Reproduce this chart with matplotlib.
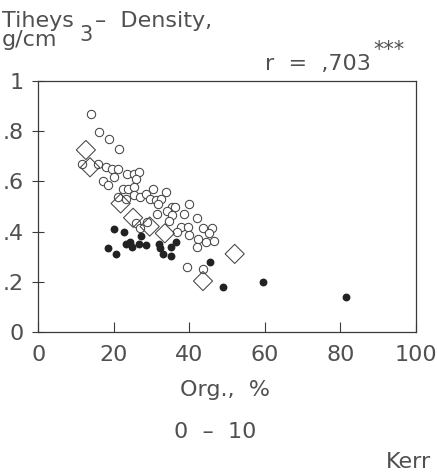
import matplotlib.pyplot as plt
from matplotlib.ticker import FixedLocator

# open circles
open_x = [13.9, 16.1, 18.7, 21.5, 11.7, 15.7, 17.8, 19.4, 21.2, 23.5, 20.0, 25.3, 26.6, 26.0,
          17.2, 18.5, 22.3, 23.7, 25.3, 30.4, 33.8, 21.0, 23.3, 25.3, 26.9, 28.5, 29.6, 31.1,
          32.6, 31.7, 35.3, 36.2, 39.9, 34.1, 31.5, 35.4, 38.5, 41.9, 25.8, 28.9, 34.6, 26.9,
          37.7, 39.7, 43.6, 46.1, 36.6, 39.9, 45.2, 42.3, 44.5, 46.5, 41.9, 39.3, 43.6]
open_y = [0.867, 0.797, 0.768, 0.728, 0.668, 0.668, 0.657, 0.648, 0.648, 0.628, 0.616, 0.628,
          0.639, 0.608, 0.603, 0.587, 0.569, 0.570, 0.578, 0.569, 0.557, 0.539, 0.530, 0.546,
          0.537, 0.549, 0.530, 0.526, 0.529, 0.509, 0.499, 0.499, 0.509, 0.483, 0.470, 0.466,
          0.470, 0.453, 0.433, 0.439, 0.442, 0.413, 0.419, 0.419, 0.413, 0.413, 0.400, 0.386,
          0.393, 0.369, 0.360, 0.363, 0.340, 0.260, 0.250]

# filled circles
fill_x = [20.0, 22.7, 27.1, 18.5, 20.6, 23.1, 24.3, 24.7, 26.7, 28.5, 32.0, 32.2, 33.1,
          35.1, 35.1, 36.4, 45.5, 48.9, 59.5, 81.4]
fill_y = [0.412, 0.400, 0.382, 0.336, 0.311, 0.351, 0.360, 0.340, 0.351, 0.347, 0.351,
          0.333, 0.311, 0.340, 0.304, 0.360, 0.280, 0.180, 0.200, 0.139]

# diamonds
dia_x = [12.6, 13.7, 21.8, 25.1, 29.5, 33.5, 52.0, 43.6]
dia_y = [0.725, 0.656, 0.512, 0.455, 0.420, 0.393, 0.311, 0.203]

xticks = [0, 20, 40, 60, 80, 100]
yticks = [0, 0.2, 0.4, 0.6, 0.8, 1.0]
ytick_labels = ["0", ".2", ".4", ".6", ".8", "1"]

W, H = 437, 476
ink = "#3a3a3a"
txt_col = "#505050"

fig = plt.figure(figsize=(W / 100, H / 100), dpi=100)
ax = fig.add_axes([0.0876, 0.3025, 0.8644, 0.5275])

ax.scatter(open_x, open_y, s=36, facecolors="white", edgecolors="#444444", linewidths=0.75, zorder=3)
ax.scatter(dia_x, dia_y, s=95, marker="D", facecolors="none", edgecolors="#444444",
           linewidths=0.75, zorder=4)
ax.scatter(fill_x, fill_y, s=32, color="#222222", linewidths=0, zorder=5)

ax.set_xlim(0, 100)
ax.set_ylim(0, 1)
ax.xaxis.set_major_locator(FixedLocator(xticks))
ax.yaxis.set_major_locator(FixedLocator(yticks))
ax.set_xticklabels([str(t) for t in xticks])
ax.set_yticklabels(ytick_labels)
ax.tick_params(axis="x", direction="in", length=7, width=0.8, color=ink,
               labelsize=16, labelcolor=txt_col, pad=9)
ax.tick_params(axis="y", direction="inout", length=9, width=0.8, color=ink,
               labelsize=16, labelcolor=txt_col, pad=6)
for sp in ax.spines.values():
    sp.set_color(ink)
    sp.set_linewidth(0.9)


def put(x_px, base_px, s, size=16, ha="left"):
    fig.text(x_px / W, 1 - base_px / H, s, ha=ha, va="baseline",
             color=txt_col, fontsize=size)


put(2, 27, "Tiheys")
put(95, 27, "\u2013  Density,")
put(2, 46, "g/cm")
put(79, 41, "3", size=15)
put(265, 70, "r  =  ,703")
put(373, 56, "***", size=15)
put(225, 396, "Org.,  %", ha="center")
put(215, 438, "0  \u2013  10", ha="center")
put(386, 468, "Kerr")

fig.savefig("out.png", dpi=100)
